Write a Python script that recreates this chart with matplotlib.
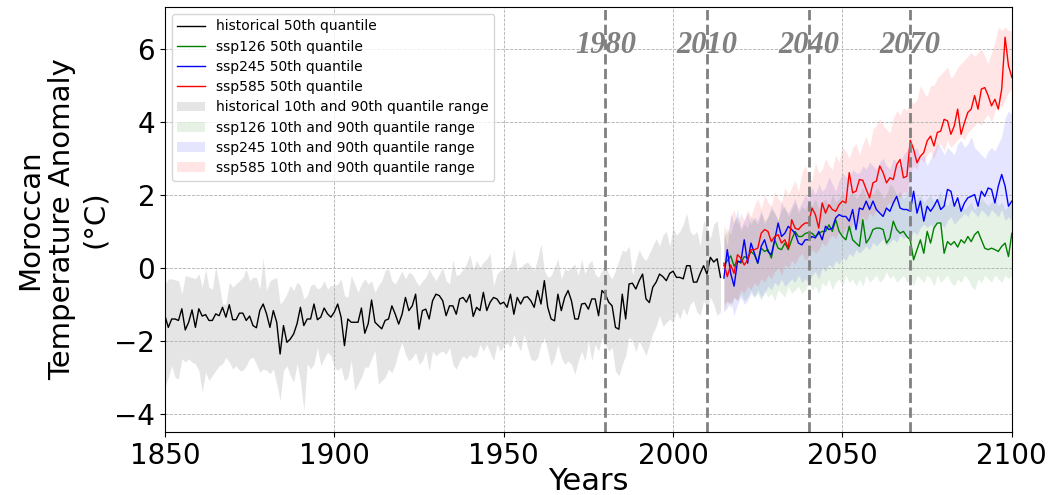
import numpy as np
import matplotlib.pyplot as plt

hist_years = np.arange(1850, 2015)
ssp_years = np.arange(2015, 2101)
marker_years = [1980, 2010, 2040, 2070]

# historical quantiles (1850-2014)
hist_q50 = [
    -1.31, -1.63, -1.40, -1.40, -1.44, -1.12, -1.70, -1.49, -1.15, -1.63,
    -1.12, -1.32, -1.28, -1.44, -1.44, -1.26, -1.31, -1.08, -1.35, -1.01,
    -1.42, -1.42, -1.24, -1.24, -1.44, -1.32, -1.58, -1.64, -1.17, -0.99,
    -1.26, -1.63, -1.17, -1.49, -2.36,
    -1.58, -2.04, -1.95, -1.81, -1.53, -1.08, -1.58, -1.40, -1.40, -0.99,
    -1.42, -1.35, -1.10, -1.26, -1.35, -1.21, -0.99, -1.35, -2.13, -1.40,
    -1.49, -1.49, -1.49, -1.10, -1.79, -1.53, -0.88, -1.49, -1.58, -1.67,
    -1.44, -1.40,
    -1.04, -1.27, -1.54, -1.27, -0.81, -1.17, -1.04, -0.72, -1.68, -1.17,
    -1.13, -1.40, -0.90, -0.72, -0.76, -0.90, -1.31, -1.04, -1.04, -1.27,
    -0.85, -0.81, -0.94, -0.73, -1.33, -1.08, -1.17, -0.67, -1.17, -0.94,
    -0.81, -0.85, -0.99, -0.94, -1.08,
    -0.72, -1.27, -0.81, -0.99, -0.81, -0.79, -0.90, -1.08, -0.62, -0.99,
    -0.35, -1.08, -1.40, -1.45, -0.72, -1.17, -0.81, -0.62, -0.90, -1.40,
    -1.40, -0.99, -0.97, -1.13, -0.85, -0.85, -1.31, -0.62, -0.72, -0.94,
    -1.04, -1.63, -1.68, -0.72,
    -1.40, -0.44, -0.42, -0.58, -0.35, -0.17, -0.85, -0.95, -0.53, -0.39,
    -0.17, -0.24, -0.35, -0.15, -0.09, -0.26, -0.26, -0.30, 0.06, 0.06,
    -0.39, -0.39, -0.15, 0.06, -0.17, 0.29, 0.16, 0.25, -0.26,
]
hist_q90 = [
    -0.44, -0.30, -0.30, -0.33, -0.35, -0.71, -0.21, -0.24, -0.26, -0.30,
    -0.16, -0.53, -0.03, -0.53, -0.58, 0.04, -0.44, -0.99, -0.99, -0.39,
    -0.53, -0.44, -0.35, -0.26, -0.03, -0.35, -0.26, -0.26, -0.58, 0.27,
    -0.62, -0.35, -0.30, -0.26,
    -0.99, -0.89, -0.71, -0.48, -0.62, -0.39, -0.48, -0.85, -0.76, -0.48,
    -0.44, -0.58, -0.53, -0.35, -0.58, -0.48, -0.48, -0.44, -0.30, -0.76,
    -0.80, -0.21, -0.44, -0.67, -0.44, -0.30, -0.44, -0.35, -0.67, -0.48,
    -0.35, -0.07, -0.03,
    -0.35, -0.44, -0.26, -0.09, -0.30, -0.12, -0.17, -0.35, -0.49, -0.35,
    -0.26, -0.03, -0.21, -0.35, -0.17, 0.00, -0.35, -0.44, 0.22, -0.21,
    -0.17, -0.03, 0.11, 0.37, -0.03, 0.20, 0.02, 0.16, 0.25, 0.40,
    -0.49, -0.17, -0.07, -0.03, 0.02,
    0.11, 0.52, -0.07, 0.02, 0.11, 0.16, 0.06, -0.07, 0.25, 0.66,
    -0.07, -0.26, -0.21, 0.02, 0.25, -0.30, -0.03, -0.07, 0.02, 0.11,
    -0.21, 0.25, -0.17, 0.11, 0.20, -0.17, -0.26, -0.07, 0.06, -0.17,
    -0.30, -0.07, 0.20, 0.48,
    0.45, 0.60, -0.20, 0.20, 0.50, 0.30, 0.20, 0.40, 0.60, 0.80,
    0.60, 0.90, 1.00, 0.60, 1.10, 0.90, 1.00, 1.20, 1.50, 1.00,
    0.90, 1.00, 0.60, 1.30, 1.10, 0.80, 1.20, 1.30, 0.60,
]
hist_q10 = [
    -3.27, -3.00, -2.68, -3.00, -3.04, -2.49, -2.58, -2.49, -2.58, -2.63,
    -2.81, -3.41, -2.86, -3.08, -2.95, -2.81, -2.68, -2.63, -2.45, -2.58,
    -2.77, -2.68, -2.81, -2.81, -2.68, -2.49, -2.45, -2.63, -2.86, -2.77,
    -2.81, -2.90, -2.77, -3.18,
    -3.63, -2.81, -2.68, -2.95, -3.13, -2.63, -3.09, -3.91, -2.63, -2.77,
    -2.63, -2.17, -2.68, -2.49, -2.31, -2.40, -2.72, -2.81, -2.72, -3.09,
    -3.00, -2.54, -3.36, -3.18, -3.00, -2.72, -2.72, -2.49, -2.26, -3.18,
    -3.09, -3.00, -2.77,
    -2.87, -2.64, -2.28, -2.05, -2.37, -2.55, -2.46, -2.32, -2.64, -2.55,
    -2.28, -2.83, -2.28, -2.41, -2.32, -2.28, -2.37, -2.18, -2.64, -2.78,
    -2.55, -2.41, -2.50, -2.37, -2.46, -2.41, -2.09, -2.28, -2.09, -2.32,
    -2.55, -2.09, -2.28, -2.14, -2.05,
    -2.18, -1.82, -2.09, -2.28, -1.82, -2.18, -2.50, -2.55, -2.46, -2.09,
    -1.91, -2.28, -2.69, -2.46, -2.09, -2.46, -2.64, -2.55, -2.64, -2.92,
    -2.55, -2.28, -2.55, -2.00, -2.55, -2.09, -2.28, -1.91, -2.09, -2.28,
    -2.18, -2.83, -2.96, -2.64,
    -2.40, -1.90, -2.00, -2.30, -2.00, -2.20, -2.40, -2.10, -1.80, -1.60,
    -1.30, -1.60, -1.50, -1.40, -1.50, -1.20, -1.40, -1.10, -1.30, -1.00,
    -0.90, -1.20, -1.30, -0.90, -1.10, -0.80, -1.00, -1.30, -1.20,
]

# scenario quantiles (2015-2100)
ssp126_q50 = [
    0.06, 0.20, 0.33, 0.05, 0.20, 0.13, 0.31, 0.27, 0.45, 0.36,
    0.13, 0.54, 0.45, 0.50, 0.27, 0.77, 0.54, 0.50, 0.68, 0.50,
    0.77, 1.00, 0.86, 0.86, 0.94, 0.97, 0.95, 0.86, 0.94, 1.00,
    1.00, 1.18, 1.00, 1.32, 1.00, 0.86, 0.77, 1.14, 0.77, 0.68,
    0.59, 1.32, 0.68, 0.82, 1.05, 1.09, 1.09, 1.05, 0.68, 0.82,
    1.28, 1.05, 0.95, 1.00, 0.86, 0.77, 0.22, 0.50, 0.77, 0.40,
    1.00, 0.68, 1.09, 1.23, 1.23, 0.40, 0.72, 0.63, 0.72, 0.57,
    0.77, 0.68, 0.86, 0.72, 0.91, 1.00, 0.77, 0.54, 0.50, 0.54,
    0.50, 0.45, 0.59, 0.68, 0.31, 0.95,
]
ssp245_q50 = [
    -0.28, 0.50, -0.15, -0.50, 0.17, 0.17, 0.77, 0.13, 0.68, 0.40,
    0.13, 0.59, 0.77, 0.45, 0.36, 0.77, 1.23, 0.86, 0.95, 1.14,
    1.05, 0.95, 0.68, 0.63, 0.77, 0.77, 0.86, 0.82, 1.00, 0.77,
    1.14, 1.05, 1.09, 1.37, 1.46, 1.41, 1.41, 1.28, 1.60, 1.05,
    1.64, 1.60, 1.83, 1.60, 1.83, 1.60, 1.50, 1.41, 1.64, 1.55,
    1.78, 1.96, 1.64, 1.60, 1.60, 1.55, 2.10, 1.50, 1.83, 1.28,
    1.69, 1.55, 1.69, 1.87, 1.60, 1.69, 2.15, 2.10, 1.69, 1.92,
    1.55, 1.78, 1.92, 1.96, 2.01, 1.69, 2.10, 1.96, 2.19, 2.15,
    1.78, 2.24, 2.56, 2.24, 1.69, 1.83,
]
ssp585_q50 = [
    0.13, -0.24, 0.08, -0.15, 0.36, 0.27, 0.08, 0.22, 0.50, 0.50,
    0.54, 0.95, 1.05, 1.00, 0.72, 0.86, 0.91, 0.68, 0.77, 0.54,
    1.32, 1.09, 1.05, 1.16, 1.23, 1.23, 1.64, 1.46, 1.09, 1.78,
    1.50, 1.73, 1.60, 1.55, 1.73, 1.83, 1.78, 2.61, 2.06, 2.10,
    2.42, 2.40, 2.15, 1.92, 2.33, 2.38, 2.79, 2.61, 2.33, 2.47,
    2.42, 2.83, 2.97, 2.47, 2.51, 3.50, 3.25, 2.88, 3.06, 3.16,
    3.48, 3.61, 3.34, 3.71, 3.75, 4.07, 4.03, 3.66, 3.89, 4.35,
    3.66, 3.98, 4.26, 4.35, 4.72, 4.35, 4.90, 4.94, 4.72, 4.44,
    4.62, 4.35, 4.90, 6.32, 5.54, 5.22,
]

ssp126_q90 = [
    0.8, 1.1, 0.9, 1.3, 1.4, 1.0, 1.2, 1.1, 1.4, 1.3,
    1.2, 1.5, 1.3, 1.4, 1.6, 1.5, 1.3, 1.6, 1.7, 1.4,
    1.6, 1.8, 1.5, 1.7, 1.6, 1.8, 1.7, 1.9, 1.6, 1.8,
    1.9, 1.7, 2.0, 1.8, 1.9, 2.1, 1.8, 2.0, 2.1, 1.9,
    2.0, 2.2, 1.9, 2.1, 2.0, 2.2, 2.1, 1.9, 2.0, 2.3,
    2.2, 2.0, 2.1, 1.9, 2.0, 2.3, 1.8, 1.9, 2.0, 1.8,
    1.9, 2.0, 1.8, 1.9, 2.1, 1.8, 1.7, 1.9, 1.8, 1.7,
    1.8, 1.6, 1.7, 1.8, 1.6, 1.7, 1.9, 1.8, 1.7, 1.8,
    1.9, 1.7, 1.8, 1.6, 1.7, 1.8,
]
ssp126_q10 = [
    -1.0, -0.9, -1.1, -0.8, -0.9, -0.7, -0.9, -0.8, -0.6, -0.8,
    -0.7, -0.9, -0.6, -0.8, -0.7, -0.9, -0.6, -0.7, -0.8, -0.5,
    -0.7, -0.6, -0.5, -0.7, -0.6, -0.4, -0.6, -0.5, -0.7, -0.4,
    -0.5, -0.3, -0.6, -0.4, -0.3, -0.5, -0.2, -0.4, -0.3, -0.5,
    -0.3, -0.5, -0.2, -0.4, -0.3, -0.2, -0.4, -0.3, -0.1, -0.3,
    -0.2, -0.4, -0.3, -0.2, -0.4, -0.3, -0.5, -0.2, -0.3, -0.4,
    -0.2, -0.3, -0.5, -0.2, -0.4, -0.3, -0.2, -0.4, -0.5, -0.3,
    -0.4, -0.2, -0.3, -0.5, -0.6, -0.3, -0.4, -0.2, -0.3, -0.4,
    -0.2, -0.3, -0.4, -0.2, -0.3, -0.2,
]
ssp245_q90 = [
    1.0, 0.6, 1.5, 1.2, 1.6, 1.1, 1.3, 1.5, 1.2, 1.4,
    1.3, 1.6, 1.2, 1.4, 1.7, 1.5, 1.3, 1.8, 1.6, 1.5,
    1.7, 1.9, 1.6, 1.8, 2.0, 1.9, 2.2, 2.0, 2.3, 2.1,
    2.2, 2.5, 2.3, 2.1, 2.4, 2.6, 2.5, 2.4, 2.7, 2.6,
    2.6, 2.8, 2.7, 2.9, 2.8, 2.7, 2.9, 3.0, 2.8, 2.7,
    3.0, 2.9, 2.8, 3.1, 3.2, 3.4, 3.2, 3.3, 3.0, 3.1,
    2.8, 3.0, 3.2, 3.4, 3.3, 3.1, 3.3, 3.2, 3.1, 3.4,
    3.5, 3.3, 3.4, 3.6, 3.3, 3.2, 3.1, 3.0, 3.2, 3.3,
    3.2, 3.4, 3.6, 4.1, 4.3, 4.2,
]
ssp245_q10 = [
    -1.2, -1.1, -0.9, -1.3, -1.0, -0.8, -1.0, -0.9, -0.7, -0.8,
    -0.6, -0.8, -0.7, -0.5, -0.6, -0.4, -0.5, -0.3, -0.5, -0.4,
    -0.3, -0.4, -0.2, -0.4, -0.3, -0.4, -0.2, -0.1, -0.3, 0.0,
    -0.1, 0.1, 0.0, 0.2, 0.1, 0.3, 0.2, 0.4, 0.3, 0.5,
    0.4, 0.5, 0.6, 0.5, 0.7, 0.6, 0.7, 0.8, 0.6, 0.7,
    0.8, 0.7, 0.9, 0.8, 0.9, 0.8, 1.0, 0.9, 1.1, 1.2,
    1.1, 1.2, 1.1, 1.3, 1.2, 1.1, 1.3, 1.4, 1.2, 1.3,
    1.4, 1.5, 1.4, 1.6, 1.5, 1.4, 1.6, 1.5, 1.4, 1.6,
    1.5, 1.4, 1.6, 1.3, 1.4, 1.3,
]
ssp585_q90 = [
    1.2, 0.9, 1.4, 1.6, 1.2, 1.5, 1.3, 1.6, 1.4, 1.7,
    1.9, 1.6, 2.0, 1.8, 1.7, 2.1, 1.9, 1.8, 2.2, 2.0,
    2.2, 2.4, 2.1, 2.6, 2.8, 2.5, 2.4, 2.9, 2.6, 2.7,
    3.0, 2.8, 2.7, 3.1, 2.9, 3.3, 3.2, 3.0, 3.3, 3.4,
    3.1, 3.4, 3.6, 3.3, 3.8, 3.9, 4.1, 3.9, 3.8, 3.7,
    4.1, 4.3, 4.2, 4.4, 4.3, 4.6, 4.5, 4.6, 5.0, 4.8,
    4.7, 5.0, 5.0, 5.2, 5.3, 5.4, 5.5, 5.2, 5.3, 5.5,
    5.6, 5.7, 5.8, 5.9, 5.8, 5.9, 6.0, 5.8, 5.6, 5.9,
    6.2, 6.6, 6.5, 6.6, 6.5, 6.5,
]
ssp585_q10 = [
    -1.2, -0.9, -1.0, -0.8, -0.9, -0.6, -0.7, -0.5, -0.6, -0.4,
    -0.5, -0.3, -0.4, -0.2, -0.3, -0.1, 0.0, -0.2, 0.1, 0.0,
    0.2, 0.1, 0.3, 0.4, 0.2, 0.3, 0.5, 0.4, 0.5, 0.7,
    0.6, 0.8, 0.9, 0.8, 1.0, 0.9, 1.1, 1.0, 1.2, 1.3,
    1.2, 1.4, 1.3, 1.5, 1.4, 1.6, 1.5, 1.4, 1.7, 1.8,
    1.7, 2.0, 1.9, 2.1, 2.0, 2.6, 2.8, 2.7, 3.0, 2.9,
    3.1, 3.2, 3.0, 3.3, 3.4, 3.2, 3.5, 3.3, 3.4, 3.5,
    3.6, 3.5, 3.7, 3.8, 3.9, 4.0, 3.9, 4.1, 4.2, 4.0,
    4.3, 4.5, 4.4, 4.6, 4.8, 4.9,
]

fig, ax = plt.subplots(figsize=(10.64, 4.95), dpi=100)
fig.subplots_adjust(left=0.155, right=0.951, top=0.986, bottom=0.127)

# median lines
ax.plot(hist_years, hist_q50, color='black', lw=1, label='historical 50th quantile')
ax.plot(ssp_years, ssp126_q50, color='green', lw=1, label='ssp126 50th quantile')
ax.plot(ssp_years, ssp245_q50, color='blue', lw=1, label='ssp245 50th quantile')
ax.plot(ssp_years, ssp585_q50, color='red', lw=1, label='ssp585 50th quantile')

# 10-90 ranges
ax.fill_between(hist_years, hist_q10, hist_q90, color='gray', alpha=0.2, lw=0,
                label='historical 10th and 90th quantile range')
ax.fill_between(ssp_years, ssp126_q10, ssp126_q90, color='green', alpha=0.1, lw=0,
                label='ssp126 10th and 90th quantile range')
ax.fill_between(ssp_years, ssp245_q10, ssp245_q90, color='blue', alpha=0.1, lw=0,
                label='ssp245 10th and 90th quantile range')
ax.fill_between(ssp_years, ssp585_q10, ssp585_q90, color='red', alpha=0.1, lw=0,
                label='ssp585 10th and 90th quantile range')

for yr in marker_years:
    ax.axvline(yr, color='gray', ls='--', lw=2)
    ax.text(yr, 6.1, str(yr), ha='center', va='center', fontsize=22,
            color='gray', fontweight='bold', fontstyle='italic',
            family='Liberation Serif')

ax.set_xlim(1850, 2100)
ax.set_ylim(-4.5, 7.15)
ax.set_yticks([-4, -2, 0, 2, 4, 6])
ax.tick_params(labelsize=20)
ax.grid(True, linestyle='--', linewidth=0.6, color='#b0b0b0')
ax.set_xlabel('Years', fontsize=22, labelpad=-2)
ax.set_ylabel('Moroccan\nTemperature Anomaly\n(°C)', fontsize=21)
ax.legend(loc='upper left', fontsize=10, labelspacing=0.45)

plt.savefig('out.png', dpi=100)
